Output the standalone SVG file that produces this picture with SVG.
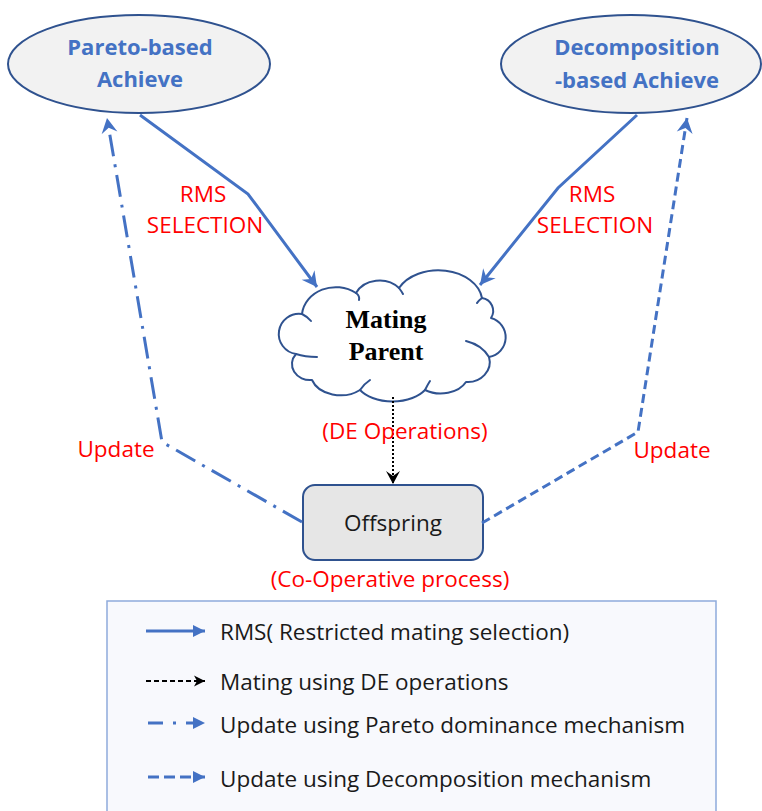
<svg xmlns="http://www.w3.org/2000/svg" width="762" height="811" viewBox="0 0 762 811">
<style>
.bg{fill:#ffffff}
.ell{fill:#f2f2f2;stroke:#2f528f;stroke-width:2}
.etxt{font-family:"Open Sans","Liberation Sans",sans-serif;font-weight:bold;font-size:22px;fill:#4472c4;text-anchor:middle}
.cloud{fill:#ffffff;stroke:#2f528f;stroke-width:2;stroke-linejoin:round}
.cin{fill:none;stroke:#2f528f;stroke-width:2;stroke-linecap:round}
.ctxt{font-family:"Liberation Serif","Times New Roman",serif;font-weight:bold;font-size:26px;fill:#000;text-anchor:middle}
.box{fill:#e6e6e6;stroke:#2f528f;stroke-width:2}
.btxt{font-family:"Open Sans","Liberation Sans",sans-serif;font-size:22.5px;fill:#1a1a1a;text-anchor:middle}
.red{font-family:"Open Sans","Liberation Sans",sans-serif;font-size:22.5px;fill:#ff0000;text-anchor:middle}
.rms{fill:none;stroke:#4472c4;stroke-width:3;stroke-linejoin:miter}
.dd{fill:none;stroke:#4472c4;stroke-width:3;stroke-dasharray:22 8 3 8}
.dsh{fill:none;stroke:#4472c4;stroke-width:3;stroke-dasharray:9 5}
.dot{fill:none;stroke:#000;stroke-width:2;stroke-dasharray:2 2}
.leg{fill:#f8f9fd;stroke:#8eaadb;stroke-width:1.5}
.ltxt{font-family:"Open Sans","Liberation Sans",sans-serif;font-size:22.5px;fill:#1a1a1a}
</style>
<defs>
<marker id="stb" viewBox="-16 -9 17 18" refX="0" refY="0" markerWidth="17" markerHeight="18" markerUnits="userSpaceOnUse" orient="auto">
<path d="M0,0 L-15,-8 L-10,0 L-15,8 Z" fill="#4472c4"/>
</marker>
<marker id="stk" viewBox="-16 -9 17 18" refX="0" refY="0" markerWidth="17" markerHeight="18" markerUnits="userSpaceOnUse" orient="auto">
<path d="M0,0 L-13,-7 L-8,0 L-13,7 Z" fill="#000"/>
</marker>
<marker id="trb" viewBox="-13 -7 14 14" refX="0" refY="0" markerWidth="14" markerHeight="14" markerUnits="userSpaceOnUse" orient="auto">
<path d="M0,0 L-12,-6 L-12,6 Z" fill="#4472c4"/>
</marker>
<marker id="trk" viewBox="-13 -7 14 14" refX="0" refY="0" markerWidth="14" markerHeight="14" markerUnits="userSpaceOnUse" orient="auto">
<path d="M0,0 L-11,-5.5 L-8,0 L-11,5.5 Z" fill="#000"/>
</marker>
</defs>
<rect class="bg" x="0" y="0" width="762" height="811"/>

<g id="pareto">
<ellipse class="ell" cx="139" cy="64" rx="131" ry="49"/>
<text class="etxt" x="140" y="55">Pareto-based</text>
<text class="etxt" x="140" y="87">Achieve</text>
</g>

<g id="decomp">
<ellipse class="ell" cx="631" cy="64" rx="130" ry="49"/>
<text class="etxt" x="637" y="55">Decomposition</text>
<text class="etxt" x="637" y="88">-based Achieve</text>
</g>

<g id="mating">
<path class="cloud" d="M296,354 A20,20 0 0 1 302,314 A34,30 0 0 1 356,293 A26,22 0 0 1 399,288 A44,32 0 0 1 482,298 A13,13 0 0 1 491,318 A20,20 0 0 1 489,357 A22,20 0 0 1 466,382 A28,20 0 0 1 425,390 A38,24 0 0 1 360,390 A30,22 0 0 1 312,380 A18,16 0 0 1 296,354 Z"/>
<path class="cin" d="M356,293 Q360,296 359,300"/>
<path class="cin" d="M399,288 Q402,292 403,294"/>
<path class="cin" d="M482,298 Q478,301 477,303"/>
<path class="cin" d="M489,357 Q482,345 466,341"/>
<path class="cin" d="M425,390 Q428,384 430,381"/>
<path class="cin" d="M360,390 Q364,384 370,380"/>
<path class="cin" d="M302,314 Q308,317 311,321"/>
<path class="cin" d="M296,354 Q305,357 317,357"/>
<text class="ctxt" x="386" y="328">Mating</text>
<text class="ctxt" x="386" y="360">Parent</text>
</g>

<g id="offspring">
<rect class="box" x="303" y="485" width="180" height="75" rx="12" ry="12"/>
<text class="btxt" x="393" y="531">Offspring</text>
</g>

<g id="connectors">
<polyline class="rms" points="140,115 248,194 317,287" marker-end="url(#stb)"/>
<polyline class="rms" points="637,115 558,188 480,285" marker-end="url(#stb)"/>
<polyline class="dd" points="302,522 162,442 107,118" marker-end="url(#stb)"/>
<polyline class="dsh" points="482,523 638,432 687,118" marker-end="url(#stb)"/>
<line class="dot" x1="393" y1="397" x2="393" y2="484" marker-end="url(#stk)"/>
</g>

<g id="labels">
<text class="red" x="203" y="202">RMS</text>
<text class="red" x="205" y="233">SELECTION</text>
<text class="red" x="592" y="202">RMS</text>
<text class="red" x="595" y="233">SELECTION</text>
<text class="red" x="116" y="457">Update</text>
<text class="red" x="672" y="458">Update</text>
<text class="red" x="405" y="439">(DE Operations)</text>
<text class="red" x="390" y="587">(Co-Operative process)</text>
</g>

<g id="legend">
<rect class="leg" x="107" y="601" width="609" height="220"/>
<line x1="146" y1="631" x2="205" y2="631" stroke="#4472c4" stroke-width="3" marker-end="url(#trb)"/>
<line x1="146" y1="681" x2="205" y2="681" stroke="#000" stroke-width="2" stroke-dasharray="5 3" marker-end="url(#trk)"/>
<line x1="148" y1="723" x2="205" y2="723" stroke="#4472c4" stroke-width="3" stroke-dasharray="15 10 3 10" marker-end="url(#trb)"/>
<line x1="148" y1="777" x2="205" y2="777" stroke="#4472c4" stroke-width="3" stroke-dasharray="11 5" marker-end="url(#trb)"/>
<text class="ltxt" x="220" y="640">RMS( Restricted mating selection)</text>
<text class="ltxt" x="220" y="690">Mating using DE operations</text>
<text class="ltxt" x="220" y="733">Update using Pareto dominance mechanism</text>
<text class="ltxt" x="220" y="787">Update using Decomposition mechanism</text>
</g>
</svg>
